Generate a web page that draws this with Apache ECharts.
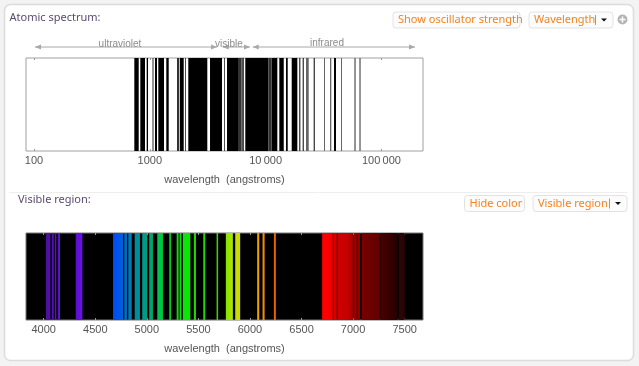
<!DOCTYPE html>
<html>
<head>
<meta charset="utf-8">
<style>
  html, body { margin: 0; padding: 0; background: #f3f3f3; }
  #chart { width: 639px; height: 366px; }
</style>
<script src="https://cdn.jsdelivr.net/npm/echarts@6/dist/echarts.min.js"></script>
</head>
<body>
<div id="chart"></div>
<script>
// atomic spectrum, angstroms, [from, to]
const atomicBands = [
  [735,802],[828,909],[940,965],[1109,1154],[1184,1326],[1388,1456],[1823,1962],[2014,2042],
  [2150,3137],[3311,4203],[4398,4459],[4642,5777],[6293,6470],[6677,10550],[11290,12620],
  [13130,14340],[15010,15520],[16800,18790],[19540,19940],[20910,21330],[26030,26550],[38970,40530]
];
const atomicDarkBands = [[1718,1798],[5777,6218],[10550,11290]];
const atomicGreyBands = [
  [1051,1081],[22330,23570],[31930,32580],[35980,36930],[44780,45690],[58340,59990],[64450,66240]
];
const atomicTicks = [100, 1000, 10000, 100000];
// ranges above the plot
const regionNames = ['ultraviolet', 'visible', 'infrared'];
const regionRanges = [[102, 3805], [4260, 7336], [7737, 195000]];

// visible lines, angstroms
const visibleBands = [
  [4022,4064],[4080,4097],[4107,4122],[4139,4158],[4310,4374],[4672,4771],[4781,4807],[4820,4853],
  [4882,4933],[4955,5004],[5023,5059],[5101,5156],[5217,5234],[5289,5308],[5318,5334],[5350,5421],
  [5456,5476],[5547,5566],[5676,5691],[5766,5834],[5857,5905],[6070,6090],[6122,6142],[6232,6251],
  [6700,6768],[6768,6804],[6810,6842],[6849,6968],[6968,7000],[7006,7036],[7043,7068],[7082,7259],
  [7265,7433],[7443,7501]
];
const visibleTicks = [4000, 4500, 5000, 5500, 6000, 6500, 7000, 7500];

// colour by wavelength
const colorStops = [
  [4022,'#4b0f9e'],[4100,'#5510b8'],[4158,'#6610e0'],[4310,'#5a10c8'],[4374,'#6a10f0'],[4672,'#0048ff'],
  [4749,'#0058e0'],[4800,'#0070c0'],[4850,'#0080b0'],[4900,'#008c9c'],[4980,'#009c88'],[5040,'#00a070'],
  [5130,'#00cc44'],[5225,'#00cc20'],[5300,'#10d810'],[5385,'#00f000'],[5466,'#20dc00'],[5556,'#20d800'],
  [5684,'#40d000'],[5800,'#a0e800'],[5880,'#d0e000'],[6080,'#f0a000'],[6132,'#f09000'],[6240,'#f06000'],
  [6700,'#ff0000'],[6768,'#ff0000'],[6804,'#e00000'],[6850,'#d00000'],[6968,'#c00000'],[7000,'#900000'],
  [7020,'#a80000'],[7068,'#900000'],[7082,'#7a0000'],[7259,'#600000'],[7265,'#4c0000'],[7433,'#250000'],
  [7443,'#2a0505'],[7501,'#2a0505']
];

function spectrumColor(w) {
  let i = 1;
  while (i < colorStops.length - 1 && colorStops[i][0] < w) i++;
  const a = colorStops[i - 1], b = colorStops[i];
  const t = Math.max(0, Math.min(1, (w - a[0]) / (b[0] - a[0])));
  return echarts.color.lerp(t, [a[1], b[1]]);
}

const tickFont = { fontFamily: 'Liberation Sans', fontSize: 11, color: '#555' };
const titleFont = 'Noto Sans';
const orange = '#f5821f';

function bandItem(color) {
  return function (params, api) {
    const a = api.coord([api.value(0), 1]);
    const b = api.coord([api.value(1), 0]);
    return {
      type: 'rect',
      shape: { x: a[0], y: a[1], width: b[0] - a[0], height: b[1] - a[1] },
      style: { fill: color }
    };
  };
}

function visibleItem(params, api) {
  const from = api.value(0), to = api.value(1);
  const a = api.coord([from, 1]);
  const b = api.coord([to, 0]);
  return {
    type: 'rect',
    shape: { x: a[0], y: a[1], width: b[0] - a[0], height: b[1] - a[1] },
    style: {
      fill: new echarts.graphic.LinearGradient(0, 0, 1, 0, [
        { offset: 0, color: spectrumColor(from) },
        { offset: 1, color: spectrumColor(to) }
      ])
    }
  };
}

function regionItem(params, api) {
  const a = api.coord([api.value(0), 1]);
  const b = api.coord([api.value(1), 1]);
  const y = a[1] - 11;
  const grey = '#a8a8a8';
  return {
    type: 'group',
    children: [
      { type: 'line', shape: { x1: a[0], y1: y, x2: b[0], y2: y }, style: { stroke: grey, lineWidth: 1 } },
      { type: 'polygon', shape: { points: [[a[0], y], [a[0] + 6, y - 2.5], [a[0] + 6, y + 2.5]] }, style: { fill: grey } },
      { type: 'polygon', shape: { points: [[b[0], y], [b[0] - 6, y - 2.5], [b[0] - 6, y + 2.5]] }, style: { fill: grey } },
      {
        type: 'text',
        style: {
          text: regionNames[params.dataIndex],
          x: params.dataIndex === 0 ? 120 : params.dataIndex === 1 ? 229 : 327,
          y: y - (params.dataIndex === 2 ? 4 : 3),
          align: 'center',
          verticalAlign: 'middle',
          fontFamily: 'Liberation Sans',
          fontSize: 10,
          fill: '#8c8c8c'
        }
      }
    ]
  };
}

function xAxisPair(gridIndex, type, min, max, ticks, labelFmt) {
  const tick = { show: true, inside: true, length: 2, customValues: ticks, lineStyle: { color: '#999' } };
  return [
    {
      gridIndex: gridIndex, type: type, min: min, max: max, position: 'bottom',
      name: 'wavelength  (angstroms)', nameLocation: 'middle', nameGap: 23,
      nameTextStyle: { fontFamily: 'Liberation Sans', fontSize: 11, color: '#555' },
      axisLine: { show: false }, splitLine: { show: false }, minorTick: { show: false },
      axisTick: tick,
      axisLabel: Object.assign({ margin: 4, customValues: ticks, formatter: labelFmt, showMinLabel: true, showMaxLabel: true }, tickFont)
    },
    {
      gridIndex: gridIndex, type: type, min: min, max: max, position: 'top',
      axisLine: { show: false }, splitLine: { show: false }, axisLabel: { show: false },
      axisTick: tick
    }
  ];
}

function button(x, y, w, h, label, hasMenu, sepX, arrowX) {
  const kids = [
    { type: 'rect', shape: { x: x, y: y, width: w, height: h, r: 3 }, style: { fill: '#fcfcfc', stroke: '#e2e2e2', lineWidth: 1 } },
    {
      type: 'text',
      style: {
        text: label, x: x + 5, y: y + h / 2, verticalAlign: 'middle',
        fontFamily: titleFont, fontSize: 11, fill: orange
      }
    }
  ];
  if (hasMenu) {
    kids.push(
      { type: 'line', shape: { x1: sepX, y1: y + 3, x2: sepX, y2: y + h - 3 }, style: { stroke: '#999', lineWidth: 1 } },
      { type: 'polygon', shape: { points: [[arrowX - 3, y + h / 2 - 1.5], [arrowX + 3, y + h / 2 - 1.5], [arrowX, y + h / 2 + 1.5]] }, style: { fill: '#111' } }
    );
  }
  return { type: 'group', children: kids };
}

const chart = echarts.init(document.getElementById('chart'), null, { renderer: 'canvas' });
const axes = xAxisPair(0, 'log', 85.3, 228600, atomicTicks, function (v) {
  return v >= 10000 ? String(v).replace(/000$/, '\u2009000') : String(v);
}).concat(xAxisPair(1, 'value', 3828, 7678, visibleTicks, function (v) { return String(v); }));

chart.setOption({
  animation: false,
  backgroundColor: '#f3f3f3',
  grid: [
    { left: 26, top: 58, width: 397, height: 93, show: true, backgroundColor: '#fff', borderColor: '#a0a0a0', borderWidth: 1 },
    { left: 26, top: 233, width: 397, height: 87, show: true, backgroundColor: '#000', borderColor: '#777', borderWidth: 1 }
  ],
  xAxis: axes,
  yAxis: [
    { gridIndex: 0, type: 'value', min: 0, max: 1, show: false },
    { gridIndex: 1, type: 'value', min: 0, max: 1, show: false }
  ],
  series: [
    { type: 'custom', xAxisIndex: 0, yAxisIndex: 0, data: atomicBands, encode: { x: [0, 1] }, renderItem: bandItem('#000'), clip: false, silent: true },
    { type: 'custom', xAxisIndex: 0, yAxisIndex: 0, data: atomicDarkBands, encode: { x: [0, 1] }, renderItem: bandItem('#333'), clip: false, silent: true },
    { type: 'custom', xAxisIndex: 0, yAxisIndex: 0, data: atomicGreyBands, encode: { x: [0, 1] }, renderItem: bandItem('#666'), clip: false, silent: true },
    { type: 'custom', xAxisIndex: 0, yAxisIndex: 0, data: regionRanges, encode: { x: [0, 1] }, renderItem: regionItem, clip: false, silent: true },
    { type: 'custom', xAxisIndex: 2, yAxisIndex: 1, data: visibleBands, encode: { x: [0, 1] }, renderItem: visibleItem, clip: false, silent: true }
  ],
  graphic: [
    { type: 'rect', z: -10, silent: true, shape: { x: 4.5, y: 4.5, width: 629, height: 356, r: 6 }, style: { fill: '#fff', stroke: '#dcdcdc', lineWidth: 1.5 } },
    { type: 'line', z: -9, silent: true, shape: { x1: 9, y1: 192.5, x2: 628, y2: 192.5 }, style: { stroke: '#eeeeee', lineWidth: 1 } },
    { type: 'text', style: { text: 'Atomic spectrum:', x: 9.5, y: 18, verticalAlign: 'middle', fontFamily: titleFont, fontSize: 11, fill: '#5a4a70' } },
    { type: 'text', style: { text: 'Visible region:', x: 18, y: 199.5, verticalAlign: 'middle', fontFamily: titleFont, fontSize: 11, fill: '#5a4a70' } },
    button(393, 12, 127, 16, 'Show oscillator strength', false),
    button(529, 12, 84, 16, 'Wavelength', true, 595.5, 604),
    button(464.5, 195.5, 60, 16, 'Hide color', false),
    button(533, 195.5, 94, 16, 'Visible region', true, 609.5, 618),
    { type: 'circle', shape: { cx: 622.5, cy: 19.5, r: 5 }, style: { fill: '#b4b4b4' } },
    { type: 'line', shape: { x1: 619.5, y1: 19.5, x2: 625.5, y2: 19.5 }, style: { stroke: '#fff', lineWidth: 1.5 } },
    { type: 'line', shape: { x1: 622.5, y1: 16.5, x2: 622.5, y2: 22.5 }, style: { stroke: '#fff', lineWidth: 1.5 } }
  ]
});
</script>
</body>
</html>
